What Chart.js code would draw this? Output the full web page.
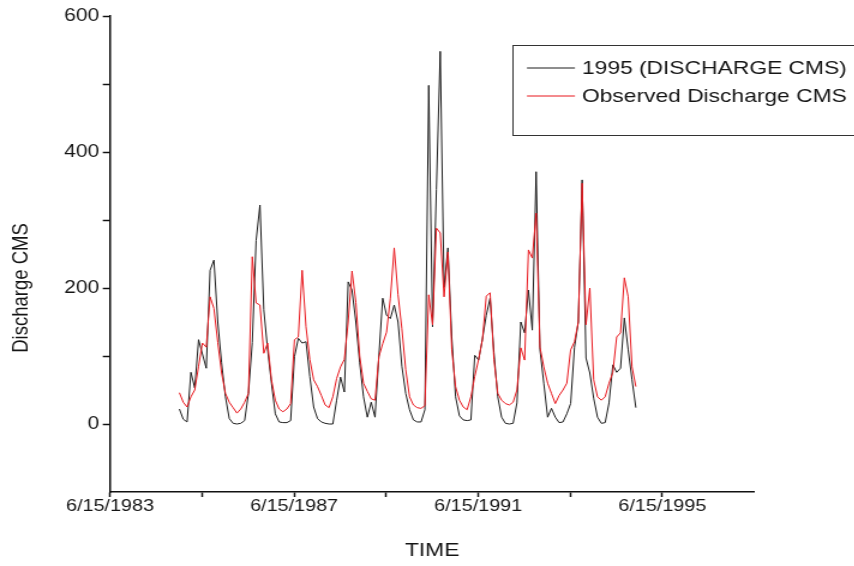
<!DOCTYPE html>
<html>
<head>
<meta charset="utf-8">
<title>Discharge CMS</title>
<script src="https://cdn.jsdelivr.net/npm/chart.js@4.4.1/dist/chart.umd.min.js"></script>
<style>
  html, body { margin: 0; padding: 0; background: #fff; overflow: hidden; }
  /* the reference picture is stretched sideways, so draw narrow and stretch it */
  #wrap { width: 712px; height: 566px; transform: scaleX(1.2); transform-origin: 0 0; }
</style>
</head>
<body>
<div id="wrap"><canvas id="chart" width="712" height="566"></canvas></div>
<script>
  var SX = 1.2;
  var FONT = '"Liberation Sans", Arial, sans-serif';
  var INK = '#151515';

  var seriesNames = ['1995 (DISCHARGE CMS)', 'Observed Discharge CMS'];
  var xTitle = 'TIME';
  var yTitle = 'Discharge CMS';

  // x axis ticks sit on 15 June of each year
  var xTickYears = [1983, 1985, 1987, 1989, 1991, 1993, 1995];
  var xTickLabels = ['6/15/1983', '', '6/15/1987', '', '6/15/1991', '', '6/15/1995'];
  var yTickValues = [0, 100, 200, 300, 400, 500, 600];
  var yTickLabels = ['0', '', '200', '', '400', '', '600'];

  // monthly values, Jan 1985 .. Dec 1994
  var firstSample = 1984.96;
  var modelCms = [
    22, 7, 3, 76, 53, 124, 103, 82, 226, 241, 150, 90,
    40, 8, 1, 0, 1, 5, 45, 120, 270, 322, 168, 109,
    60, 15, 3, 2, 2, 5, 99, 126, 119, 121, 70, 25,
    8, 3, 1, 0, 0, 35, 69, 47, 209, 197, 150, 90,
    40, 10, 32, 10, 100, 185, 160, 155, 175, 150, 85, 45,
    21, 6, 3, 3, 21, 498, 143, 345, 548, 201, 259, 128,
    40, 12, 6, 5, 6, 101, 94, 125, 160, 185, 105, 40,
    10, 1, 0, 1, 31, 150, 134, 197, 138, 371, 109, 60,
    10, 23, 10, 2, 3, 15, 30, 113, 150, 359, 97, 75,
    38, 10, 1, 2, 31, 87, 76, 82, 156, 109, 65, 24
  ];
  var observedCms = [
    46, 32, 25, 40, 50, 85, 119, 113, 187, 170, 120, 75,
    45, 32, 24, 16, 22, 32, 45, 246, 178, 175, 104, 119,
    65, 35, 22, 18, 22, 30, 124, 128, 226, 143, 95, 65,
    55, 42, 28, 24, 40, 67, 84, 95, 150, 225, 179, 100,
    60, 48, 37, 35, 99, 118, 135, 185, 259, 190, 140, 80,
    40, 28, 24, 23, 27, 190, 146, 288, 281, 187, 253, 110,
    55, 35, 25, 21, 40, 70, 95, 124, 188, 193, 95, 45,
    35, 30, 28, 32, 50, 112, 94, 256, 244, 310, 113, 84,
    60, 45, 30, 42, 50, 60, 109, 121, 150, 354, 146, 200,
    65, 40, 35, 40, 60, 76, 128, 134, 215, 187, 84, 55
  ];

  var june15 = 165 / 365;

  function toPoints(values) {
    return values.map(function (v, i) {
      return { x: firstSample + i / 12, y: v };
    });
  }

  // boxed legend at the top right, like the original
  var boxLegend = {
    id: 'boxLegend',
    afterDraw: function (chart) {
      var ctx = chart.ctx;
      var bx = 513 / SX, by = 45.5, bw = 345 / SX, bh = 90;
      ctx.save();
      ctx.strokeStyle = '#333';
      ctx.lineWidth = 1;
      ctx.strokeRect(bx, by, bw, bh);
      ctx.font = '19px ' + FONT;
      ctx.textBaseline = 'middle';
      ctx.fillStyle = INK;
      [0, 1].forEach(function (k, r) {
        var ds = chart.data.datasets.filter(function (d) { return d.label === seriesNames[k]; })[0];
        var y = 68 + r * 28;
        ctx.beginPath();
        ctx.strokeStyle = ds.borderColor;
        ctx.lineWidth = 1;
        ctx.moveTo(527 / SX, y);
        ctx.lineTo(575 / SX, y);
        ctx.stroke();
        ctx.fillText(ds.label, 582 / SX, y + 1);
      });
      ctx.restore();
    }
  };

  var sideTitle = {
    id: 'sideTitle',
    afterDraw: function (chart) {
      var ctx = chart.ctx;
      ctx.save();
      ctx.translate(22 / SX, 288);
      ctx.rotate(-Math.PI / 2);
      ctx.font = '18.5px ' + FONT;
      ctx.fillStyle = INK;
      ctx.textAlign = 'center';
      ctx.textBaseline = 'middle';
      ctx.fillText(yTitle, 0, 0);
      ctx.restore();
    }
  };

  new Chart(document.getElementById('chart'), {
    type: 'line',
    data: {
      datasets: [
        {
          label: seriesNames[0],
          data: toPoints(modelCms),
          borderColor: '#1c1c1c',
          borderWidth: 1,
          pointRadius: 0,
          tension: 0,
          order: 1
        },
        {
          label: seriesNames[1],
          data: toPoints(observedCms),
          borderColor: '#e8161c',
          borderWidth: 1,
          pointRadius: 0,
          tension: 0,
          order: 0
        }
      ]
    },
    options: {
      responsive: false,
      animation: false,
      devicePixelRatio: 1,
      layout: { padding: { left: 0, right: (854 - 754) / SX, top: 16, bottom: 0 } },
      plugins: {
        legend: { display: false },
        tooltip: { enabled: false }
      },
      scales: {
        x: {
          type: 'linear',
          min: 1983 + june15,
          max: 1997 + june15,
          afterBuildTicks: function (s) {
            s.ticks = xTickYears.map(function (y) { return { value: y + june15 }; });
          },
          afterFit: function (s) { s.height = 74; },
          ticks: {
            autoSkip: false,
            maxRotation: 0,
            padding: 0,
            color: INK,
            font: { family: FONT, size: 16.5 },
            callback: function (v, i) { return xTickLabels[i]; }
          },
          grid: { drawOnChartArea: false, drawTicks: true, tickLength: 5, tickColor: '#111', tickWidth: 1.5 },
          border: { color: '#111', width: 1.5 },
          title: {
            display: true,
            text: xTitle,
            color: INK,
            font: { family: FONT, size: 19 },
            padding: { top: 0, bottom: 4 }
          }
        },
        y: {
          min: -100,
          max: 600,
          afterBuildTicks: function (s) {
            s.ticks = yTickValues.map(function (v) { return { value: v }; });
          },
          afterFit: function (s) { s.width = 110 / SX; },
          ticks: {
            padding: 3,
            color: INK,
            font: { family: FONT, size: 17.5 },
            callback: function (v, i) { return yTickLabels[i]; }
          },
          grid: { drawOnChartArea: false, drawTicks: true, tickLength: 6, tickColor: '#111', tickWidth: 1.5 },
          border: { color: '#111', width: 1.5 }
        }
      }
    },
    plugins: [boxLegend, sideTitle]
  });
</script>
</body>
</html>
